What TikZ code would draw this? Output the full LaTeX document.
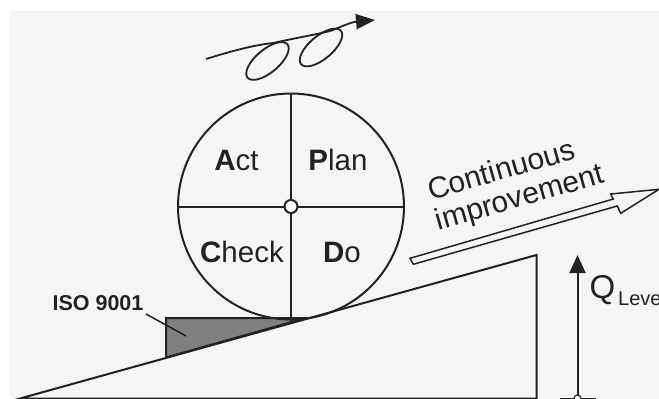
\documentclass[tikz,border=0pt]{standalone}
\usepackage{fontspec}
\setmainfont{Liberation Sans}
\usetikzlibrary{arrows.meta}
\definecolor{ink}{HTML}{222222}
\definecolor{paper}{HTML}{F5F5F5}
\definecolor{wedge}{HTML}{808080}
\newcommand{\fs}[1]{\fontsize{#1}{#1}\selectfont}
\tikzset{
 inkline/.style={draw=ink,line width=2pt,line join=miter},
 thinline/.style={draw=ink,line width=1.5pt},
 quad/.style={text=ink,font=\fs{29.5},inner sep=0pt,anchor=base},
 slanted/.style={text=ink,font=\fs{30},inner sep=0pt,rotate=16},
 loopline/.style={draw=ink,line width=1.8pt}
}
\begin{document}
\begin{tikzpicture}[x=1pt,y=-1pt]
\useasboundingbox (0,0) rectangle (659,399);
\clip (0,0) rectangle (659,399);
\fill[white] (0,0) rectangle (659,399);
\fill[paper] (10,11) rectangle (659,399);
% ISO wedge
\coordinate (rampL) at (20,398.5);
\coordinate (rampT) at (536.5,255);
\coordinate (rampB) at (536.5,398.5);
\coordinate (wA) at (166,357.5);
\coordinate (wB) at (166,318);
\coordinate (wC) at (306,318);
\filldraw[fill=wedge,inkline] (wA) -- (wB) -- (wC) -- cycle;
\draw[inkline] (rampL) -- (rampT) -- (rampB) -- cycle;
% wheel
\coordinate (hub) at (291,206.5);
\node[circle,draw=ink,line width=2pt,minimum size=226pt,inner sep=0pt] (wheel) at (hub) {};
\draw[inkline] (wheel.north) -- (wheel.south);
\draw[inkline] (wheel.west) -- (wheel.east);
\node[circle,draw=ink,fill=white,line width=2pt,minimum size=13pt,inner sep=0pt] (pin) at (hub) {};
\node[quad] (act) at (236.5,170) {\textbf{A}ct};
\node[quad] (plan) at (338,170) {\textbf{P}lan};
\node[quad] (check) at (242,262) {\textbf{C}heck};
\node[quad] (do) at (342,262) {\textbf{D}o};
% ISO label
\node[text=ink,font=\fs{21.5}\bfseries,inner sep=0pt] (iso) at (98,303) {ISO 9001};
\coordinate (isoA) at (146,314);
\coordinate (isoB) at (186,336);
\draw[thinline] (isoA) -- (isoB);
% improvement
\node[slanted] (cont) at (501,169) {Continuous};
\node[slanted] (impr) at (520,199) {improvement};
\draw[inkline,fill=paper,line width=1.5pt] (410,258.3) -- (613.3,199) -- (610.7,194) -- (659,189.3) -- (620.7,213.3) -- (617.3,206) -- (413.3,264.3) -- cycle;
% Q level
\coordinate (qB) at (577.5,398.5);
\coordinate (qT) at (577.5,255);
\draw[inkline,-{Triangle[length=18pt,width=16pt]}] (qB) -- (qT);
\coordinate (barL) at (560,398.5);
\coordinate (barR) at (596,398.5);
\draw[thinline] (barL) -- (barR);
\node[circle,draw=ink,fill=white,line width=1.2pt,minimum size=7pt,inner sep=0pt] (qpin) at (qB) {};
\node[text=ink,font=\fs{33},inner sep=0pt,anchor=base west] (q) at (589.5,298) {Q};
\node[text=ink,font=\fs{20},inner sep=0pt,anchor=base west] (lev) at (618,305) {Level};
% spiral
\coordinate (sS) at (206,59);
\coordinate (sM) at (273,43);
\coordinate (sE) at (375,20);
\draw[loopline,-{Triangle[length=19pt,width=15pt]}] (sS) .. controls (235,50) and (255,45) .. (273,43) .. controls (305,36) and (325,33) .. (333,30) .. controls (345,25) and (352,22) .. (sE);
\draw[loopline,rotate around={40:(267.5,61)}] (267.5,61) ellipse [x radius=26,y radius=11.5];
\draw[loopline,rotate around={40:(321,47.5)}] (321,47.5) ellipse [x radius=26,y radius=11.5];
\end{tikzpicture}
\end{document}
